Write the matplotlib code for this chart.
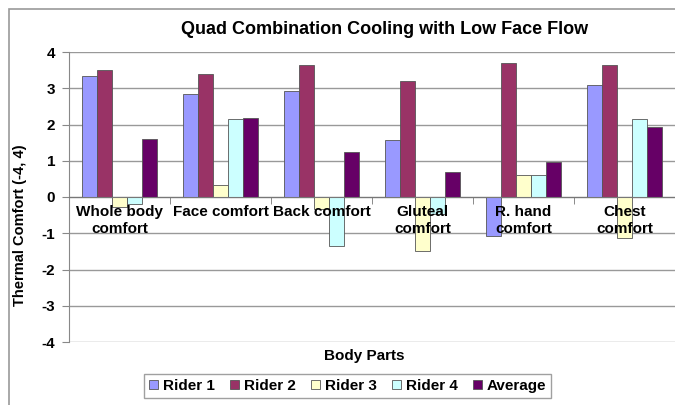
import numpy as np
import matplotlib
matplotlib.use("Agg")
import matplotlib.pyplot as plt
from matplotlib.patches import Rectangle

# Data
categories = ["Whole body\ncomfort", "Face comfort", "Back comfort",
              "Gluteal\ncomfort", "R. hand\ncomfort", "Chest\ncomfort"]
series_names = ["Rider 1", "Rider 2", "Rider 3", "Rider 4", "Average"]
rider1 = [3.35, 2.85, 2.93, 1.58, -1.07, 3.10]
rider2 = [3.50, 3.40, 3.65, 3.20, 3.70, 3.65]
rider3 = [-0.28, 0.33, -0.33, -1.50, 0.60, -1.12]
rider4 = [-0.20, 2.15, -1.35, -0.48, 0.60, 2.15]
average = [1.60, 2.18, 1.23, 0.70, 0.96, 1.93]
colors = ["#9999FF", "#993366", "#FFFFCC", "#CCFFFF", "#660066"]

plt.rcParams['font.family'] = ['Liberation Sans', 'DejaVu Sans']
plt.rcParams['font.weight'] = 'bold'
plt.rcParams['axes.unicode_minus'] = False

fig = plt.figure(figsize=(6.75, 4.05), dpi=100)
ax = fig.add_axes([69 / 675, 1 - 342 / 405, 1 - 69 / 675, (342 - 52) / 405])

# chart-area border (cut off on the right and bottom like the reference)
fig.patches.append(Rectangle((9 / 675, -0.1), 1.2, 1.1 - 9 / 405,
                             transform=fig.transFigure, fill=False,
                             edgecolor="#999999", linewidth=1.2))

x = np.arange(len(categories))
w = 0.15
all_series = [rider1, rider2, rider3, rider4, average]
for i, (vals, name, c) in enumerate(zip(all_series, series_names, colors)):
    ax.bar(x + (i - 2) * w, vals, w, color=c, edgecolor="#555555",
           linewidth=0.6, label=name, zorder=1)

ax.set_xlim(-0.5, len(categories) - 0.5)
ax.set_ylim(-4, 4)
ax.set_yticks(range(-4, 5))
for yv in range(-4, 5):
    ax.axhline(yv, color="#999999", linewidth=1.0, zorder=0)

for s in ["top", "right"]:
    ax.spines[s].set_visible(False)
ax.spines["left"].set_color("#888888")
ax.spines["bottom"].set_position(("data", 0))
ax.spines["bottom"].set_color("#777777")

ax.set_xticks(x)
ax.set_xticklabels(categories, fontsize=11, fontweight="bold",
                   linespacing=1.25)
ax.tick_params(axis="x", length=0, pad=6)
ax.set_xticks(np.arange(-0.5, len(categories)), minor=True)
ax.tick_params(axis="x", which="minor", length=5, color="#777777")
ax.tick_params(axis="y", length=5, color="#888888", labelsize=11, pad=5)
for t in ax.get_yticklabels():
    t.set_fontweight("bold")

fig.text(20 / 675, 1 - 225 / 405, "Thermal Comfort (-4, 4)", rotation=90,
         ha="center", va="center", fontsize=10.5, fontweight="bold")
fig.text(0.54, 1 - 356 / 405, "Body Parts", ha="center", va="center",
         fontsize=11, fontweight="bold")
fig.text(385 / 675, 1 - 30 / 405,
         "Quad Combination Cooling with Low Face Flow",
         ha="center", va="center", fontsize=13, fontweight="bold")

leg = fig.legend(loc="center", bbox_to_anchor=(347.5 / 675, 1 - 386 / 405),
                 ncol=5, fontsize=11, frameon=True, fancybox=False,
                 handlelength=0.6, handleheight=0.6, handletextpad=0.3,
                 columnspacing=1.0, borderpad=0.35)
leg.get_frame().set_edgecolor("#888888")
leg.get_frame().set_linewidth(1.0)

fig.savefig("out.png", dpi=100)
